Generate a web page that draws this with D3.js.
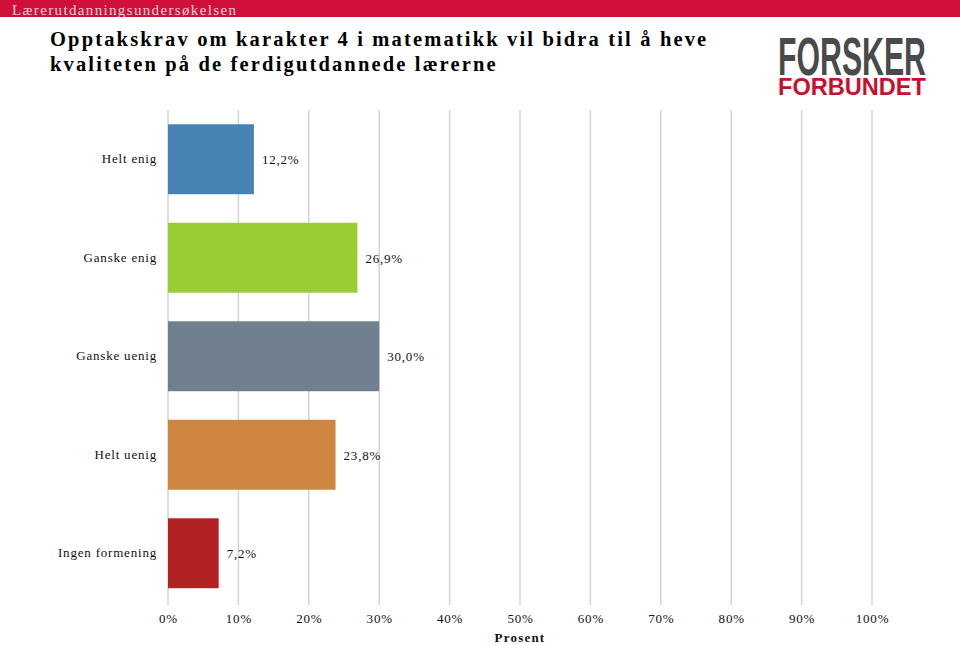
<!DOCTYPE html>
<html><head><meta charset="utf-8">
<script src="https://cdn.jsdelivr.net/npm/d3@7"></script>
<style>body{margin:0;background:#fff}svg{display:block}text{font-family:"Liberation Serif","Times New Roman",serif}</style>
</head><body>
<svg id="c" width="960" height="645"></svg>
<script>
const categories = ["Helt enig","Ganske enig","Ganske uenig","Helt uenig","Ingen formening"];
const values = [12.2, 26.9, 30.0, 23.8, 7.2];
const valueLabels = ["12,2%","26,9%","30,0%","23,8%","7,2%"];
const colors = ["#4682b4","#9acd32","#708090","#cd853f","#b22222"];
const ticks = [0,10,20,30,40,50,60,70,80,90,100];
const tickLabels = ["0%","10%","20%","30%","40%","50%","60%","70%","80%","90%","100%"];

const svg = d3.select("#c");
// header band
svg.append("rect").attr("x",0).attr("y",0).attr("width",960).attr("height",17).attr("fill","#d0103a");
svg.append("text").attr("x",12).attr("y",15).attr("font-size",15).attr("fill","#f7d3da")
  .attr("letter-spacing",1.35).text("Lærerutdanningsundersøkelsen");
// title
const title = svg.append("text").attr("font-size",20.5).attr("font-weight","bold").attr("fill","#000").attr("letter-spacing",2.15);
title.append("tspan").attr("x",50).attr("y",46).text("Opptakskrav om karakter 4 i matematikk vil bidra til å heve");
title.append("tspan").attr("x",50).attr("y",71).text("kvaliteten på de ferdigutdannede lærerne");

// logo (scaled horizontally to look condensed)
function logoText(txt, size, baseline, fill, width){
  const t = svg.append("text").attr("x",0).attr("y",0).attr("font-size",size).attr("font-weight","bold")
    .attr("fill",fill).style("font-family","'Liberation Sans',Arial,sans-serif").text(txt);
  const w = t.node().getComputedTextLength();
  t.attr("transform",`translate(778,${baseline}) scale(${width/w},1)`);
}
logoText("FORSKER", 54, 75, "#4a4a4c", 148);
logoText("FORBUNDET", 23, 95, "#c8102e", 148);

const x = d3.scaleLinear().domain([0,100]).range([168,872]);
const y = d3.scaleBand().domain(categories).range([110,602.5]).paddingInner(0.29).paddingOuter(0.145);

// gridlines
svg.append("g").selectAll("line").data(ticks).join("line")
  .attr("x1",d=>x(d)).attr("x2",d=>x(d)).attr("y1",110).attr("y2",605)
  .attr("stroke","#d4d4d4").attr("stroke-width",1.5);

// bars
svg.append("g").selectAll("rect").data(categories).join("rect")
  .attr("x",x(0)).attr("y",d=>y(d)).attr("width",(d,i)=>x(values[i])-x(0)).attr("height",y.bandwidth())
  .attr("fill",(d,i)=>colors[i]);

// value labels
svg.append("g").selectAll("text").data(categories).join("text")
  .attr("x",(d,i)=>x(values[i])+8).attr("y",d=>y(d)+y.bandwidth()/2+5)
  .attr("font-size",13).attr("letter-spacing",0.8).attr("fill","#111").text((d,i)=>valueLabels[i]);

// y axis labels
const yAxis = d3.axisLeft(y).tickSize(0).tickPadding(11);
const gy = svg.append("g").attr("transform",`translate(${x(0)},0)`).call(yAxis);
gy.select(".domain").remove();
gy.selectAll("text").attr("font-size",13).attr("letter-spacing",0.8).attr("fill","#111")
  .style("font-family","'Liberation Serif',serif");

// x axis labels
const xAxis = d3.axisBottom(x).tickValues(ticks).tickSize(0).tickPadding(0).tickFormat((d,i)=>tickLabels[i]);
const gx = svg.append("g").attr("transform","translate(0,614)").call(xAxis);
gx.select(".domain").remove();
gx.selectAll("text").attr("font-size",13).attr("letter-spacing",0.8).attr("fill","#111")
  .style("font-family","'Liberation Serif',serif");

svg.append("text").attr("x",x(50)).attr("y",642).attr("text-anchor","middle").attr("font-size",13)
  .attr("font-weight","bold").attr("letter-spacing",1.2).attr("fill","#111").text("Prosent");
</script>
</body></html>
